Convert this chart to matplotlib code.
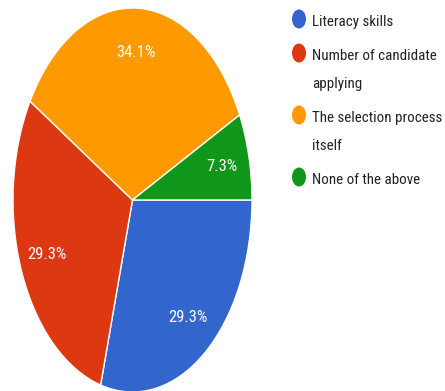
import matplotlib
matplotlib.use("Agg")
import matplotlib.pyplot as plt
from matplotlib import font_manager as fm
from matplotlib.patches import Ellipse

categories = ["Literacy skills", "Number of candidate\napplying",
              "The selection process\nitself", "None of the above"]
values = [29.3, 29.3, 34.1, 7.3]
colors = ["#3366CC", "#DC3912", "#FF9900", "#109618"]

names = {f.name for f in fm.fontManager.ttflist}
font = "DejaVu Sans"
for cand in ["Liberation Sans Narrow", "Roboto Condensed", "Open Sans Condensed", "Roboto"]:
    if cand in names:
        font = cand
        break
plt.rcParams["font.family"] = [font, "DejaVu Sans"]

W, H = 445, 391
fig = plt.figure(figsize=(W / 100, H / 100), dpi=100)
fig.patch.set_facecolor("white")

# pie axes (elliptical, stretched like the reference)
l, r, t, b = 13, 252, 8, 392
ax = fig.add_axes([l / W, (H - b) / H, (r - l) / W, (b - t) / H])
wedges, texts, autotexts = ax.pie(
    values, colors=colors, startangle=0, counterclock=False,
    autopct=lambda p: f"{p:.1f}%", pctdistance=0.77,
    wedgeprops=dict(edgecolor="white", linewidth=1.0),
    textprops=dict(color="white", fontsize=12),
)
ax.set_aspect("auto")
ax.set_xlim(-1, 1)
ax.set_ylim(-1, 1)
ax.axis("off")

# legend drawn in pixel coordinates
lax = fig.add_axes([0, 0, 1, 1])
lax.set_xlim(0, W)
lax.set_ylim(H, 0)
lax.axis("off")
baseline = 26
for cat, col in zip(categories, colors):
    lax.add_patch(Ellipse((299, baseline - 7), 14, 19, facecolor=col, edgecolor="none"))
    lines = cat.split("\n")
    for i, line in enumerate(lines):
        lax.text(312, baseline + 28 * i, line, fontsize=10.8, color="#222222",
                 va="baseline", ha="left")
    baseline += 28 * (len(lines) - 1) + 34

fig.savefig("out.png", dpi=100, facecolor="white")
